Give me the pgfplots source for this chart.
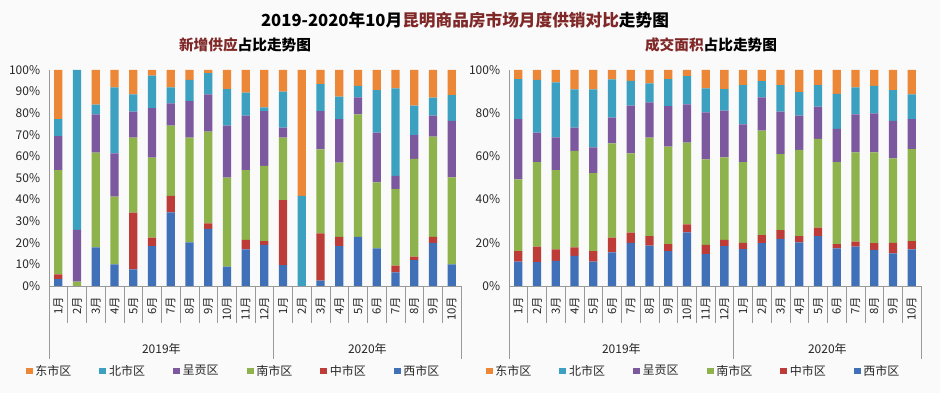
\documentclass[border=0pt]{standalone}
\usepackage{fontspec}
\setmainfont{Noto Sans CJK SC}
\usepackage{pgfplots}
\usepackage{pgfplotstable}
\pgfplotsset{compat=1.18}

\definecolor{cxi}{RGB}{64,112,184}
\definecolor{czh}{RGB}{190,60,55}
\definecolor{cnan}{RGB}{142,178,76}
\definecolor{ccg}{RGB}{124,88,158}
\definecolor{cbei}{RGB}{60,160,192}
\definecolor{cdong}{RGB}{235,135,55}
\definecolor{maroon}{RGB}{128,40,40}

\pgfplotstableread{
x xi zh nan cg bei dong
0 3.2 2.2 48.3 15.7 7.9 22.7
1 0 0 2.0 24.0 74.0 0
2 17.9 0 43.8 17.8 4.5 16.0
3 10.0 0 31.4 20.0 30.6 8.0
4 7.7 26.3 34.7 12.0 8.0 11.3
5 18.5 3.9 37.0 22.9 15.1 2.6
6 34.1 7.6 32.5 10.4 7.4 8.0
7 20.2 0 48.5 16.9 9.8 4.6
8 26.4 2.6 42.5 17.2 9.8 1.5
9 9.0 0 41.2 24.0 17.0 8.8
10 17.0 4.3 32.4 25.2 10.6 10.5
11 19.0 1.8 34.8 25.4 1.7 17.3
12 9.7 30.1 28.9 4.6 16.7 10.0
13 0 0 0 0 41.7 58.3
14 2.5 21.9 38.9 17.7 12.5 6.5
15 18.5 4.3 34.3 20.1 10.5 12.3
16 22.8 0 56.7 7.8 5.4 7.3
17 17.4 0 30.6 23.0 19.7 9.3
18 6.3 3.1 35.4 6.2 40.5 8.5
19 12.0 1.6 45.2 11.1 13.6 16.5
20 20.0 2.8 46.3 9.8 8.3 12.8
21 10.0 0 40.3 26.2 11.9 11.6
}\supply

\pgfplotstableread{
x xi zh nan cg bei dong
0 11.3 4.9 33.2 27.8 18.6 4.2
1 11.0 7.2 39.1 13.7 24.4 4.6
2 11.6 5.4 36.7 15.1 25.5 5.7
3 14.0 3.9 44.6 10.8 17.7 9.0
4 11.3 4.9 36.0 12.0 26.8 9.0
5 15.6 6.8 43.6 11.9 17.8 4.3
6 20.0 4.7 36.7 22.1 11.5 5.0
7 18.7 4.4 45.6 16.3 8.8 6.2
8 16.2 3.2 45.1 18.8 12.5 4.2
9 24.8 3.7 37.9 17.7 13.1 2.8
10 14.7 4.3 39.6 21.8 11.1 8.5
11 18.5 2.8 38.3 21.6 10.0 8.8
12 17.1 2.9 37.3 17.5 18.2 7.0
13 19.8 3.8 48.3 15.4 7.6 5.1
14 21.8 4.1 35.1 19.7 12.3 7.0
15 20.2 2.9 39.9 15.9 10.8 10.3
16 23.1 3.9 41.1 14.9 10.0 7.0
17 17.4 2.0 37.9 15.4 16.2 11.1
18 18.2 2.3 41.4 17.6 12.5 8.0
19 16.7 3.1 42.1 18.0 12.7 7.4
20 15.1 4.9 39.1 17.3 14.3 9.3
21 17.0 3.8 42.6 13.9 11.4 11.3
}\sales

\pgfplotsset{mybase/.style={
  ybar stacked, bar width=6.2pt,
  scale only axis, width=309pt, height=162pt,
  xmin=-0.5, xmax=21.5, ymin=0, ymax=100,
  axis lines*=left, axis line style={draw=black!40},
  xtick={0,...,21},
  xticklabels={1月,2月,3月,4月,5月,6月,7月,8月,9月,10月,11月,12月,1月,2月,3月,4月,5月,6月,7月,8月,9月,10月},
  major tick length=0pt,
  xticklabel style={rotate=90, anchor=east, font=\fontsize{8.5}{9}\selectfont, inner sep=0pt, text=black!85},
  xticklabel shift=8pt,
  yticklabel={\pgfmathprintnumber{\tick}\%},
  yticklabel style={inner sep=0pt, font=\fontsize{9}{10}\selectfont, text=black!85},
  yticklabel shift=6.5pt,
  /pgf/number format/assume math mode=true,
  clip=false,
  legend columns=6, reverse legend,
  legend style={draw=none, fill=none, at={(0.449,-0.3935)}, anchor=center,
    font=\fontsize{9}{10}\selectfont, text=black!85,
    /tikz/every even column/.append style={column sep=19pt}},
  legend image code/.code={\fill[##1] (0pt,-2.6pt) rectangle (5.2pt,2.6pt);},
}}

\begin{document}
\begin{tikzpicture}
\path[use as bounding box, fill=black!2] (0,0) rectangle (705pt,294.75pt);

\node[font=\bfseries\fontsize{12.5}{14}\selectfont] at (348.75pt,279.75pt)
  {2019-2020年10月\textcolor{maroon}{昆明商品房市场月度供销对比}走势图};
\node[font=\bfseries\fontsize{11}{13}\selectfont] at (183.75pt,261pt)
  {\textcolor{maroon}{新增供应}占比走势图};
\node[font=\bfseries\fontsize{11}{13}\selectfont] at (533.25pt,261pt)
  {\textcolor{maroon}{成交面积}占比走势图};

\begin{axis}[mybase, at={(36.75pt,80.25pt)}, anchor=south west,
  ytick={0,10,...,100}]
\addplot[fill=cxi, draw=none] table[x=x,y=xi]{\supply};
\addplot[fill=czh, draw=none] table[x=x,y=zh]{\supply};
\addplot[fill=cnan, draw=none] table[x=x,y=nan]{\supply};
\addplot[fill=ccg, draw=none] table[x=x,y=cg]{\supply};
\addplot[fill=cbei, draw=none] table[x=x,y=bei]{\supply};
\addplot[fill=cdong, draw=none] table[x=x,y=dong]{\supply};
\legend{西市区,中市区,南市区,呈贡区,北市区,东市区}
\pgfplotsinvokeforeach{0.5,1.5,...,20.5}{\draw[black!40] (axis cs:#1,0) -- ([yshift=-27.75pt]axis cs:#1,0);}
\pgfplotsinvokeforeach{-0.5,11.5,21.5}{\draw[black!40] (axis cs:#1,0) -- ([yshift=-54.75pt]axis cs:#1,0);}
\node[font=\fontsize{9}{10}\selectfont, text=black!85, yshift=-47pt] at (axis cs:5.5,0) {2019年};
\node[font=\fontsize{9}{10}\selectfont, text=black!85, yshift=-47pt] at (axis cs:16.5,0) {2020年};
\end{axis}

\begin{axis}[mybase, at={(381.75pt,80.25pt)}, anchor=south west,
  ytick={0,20,...,100}]
\addplot[fill=cxi, draw=none] table[x=x,y=xi]{\sales};
\addplot[fill=czh, draw=none] table[x=x,y=zh]{\sales};
\addplot[fill=cnan, draw=none] table[x=x,y=nan]{\sales};
\addplot[fill=ccg, draw=none] table[x=x,y=cg]{\sales};
\addplot[fill=cbei, draw=none] table[x=x,y=bei]{\sales};
\addplot[fill=cdong, draw=none] table[x=x,y=dong]{\sales};
\legend{西市区,中市区,南市区,呈贡区,北市区,东市区}
\pgfplotsinvokeforeach{0.5,1.5,...,20.5}{\draw[black!40] (axis cs:#1,0) -- ([yshift=-27.75pt]axis cs:#1,0);}
\pgfplotsinvokeforeach{-0.5,11.5,21.5}{\draw[black!40] (axis cs:#1,0) -- ([yshift=-54.75pt]axis cs:#1,0);}
\node[font=\fontsize{9}{10}\selectfont, text=black!85, yshift=-47pt] at (axis cs:5.5,0) {2019年};
\node[font=\fontsize{9}{10}\selectfont, text=black!85, yshift=-47pt] at (axis cs:16.5,0) {2020年};
\end{axis}
\end{tikzpicture}
\end{document}
